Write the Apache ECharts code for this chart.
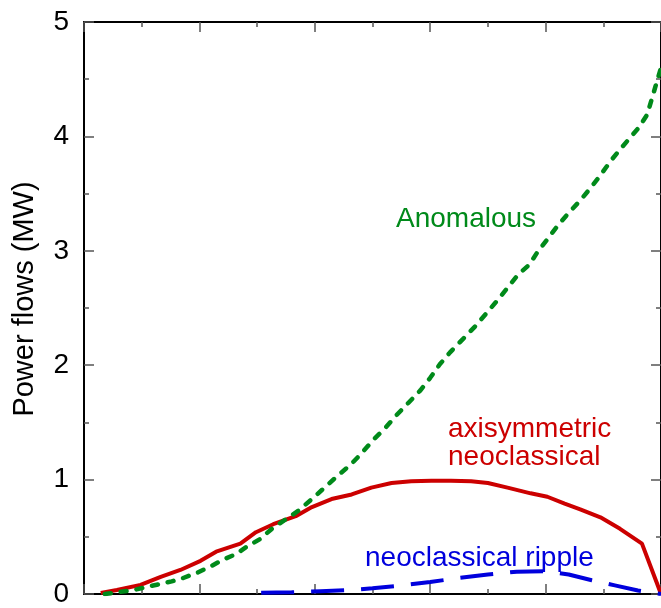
<!DOCTYPE html>
<html>
<head>
<meta charset="utf-8">
<script src="https://cdn.jsdelivr.net/npm/echarts@6/dist/echarts.min.js"></script>
<style>
  html, body { margin: 0; padding: 0; background: #fff; }
  #chart { width: 661px; height: 608px; }
</style>
</head>
<body>
<div id="chart"></div>
<script>
// Normalised radius (0..1) and power flow (MW) for each channel
const axisymX = [0.029, 0.057, 0.098, 0.133, 0.167, 0.202, 0.229, 0.271, 0.298, 0.328, 0.367, 0.395, 0.429, 0.464, 0.498, 0.533, 0.567, 0.602, 0.636, 0.671, 0.700, 0.734, 0.774, 0.803, 0.833, 0.860, 0.895, 0.929, 0.967, 1.0];
const axisymY = [0.01, 0.035, 0.08, 0.15, 0.21, 0.29, 0.37, 0.44, 0.54, 0.61, 0.68, 0.76, 0.83, 0.87, 0.93, 0.97, 0.985, 0.99, 0.99, 0.985, 0.97, 0.93, 0.88, 0.85, 0.79, 0.74, 0.67, 0.57, 0.44, 0.0];

const anomX = [0.036, 0.086, 0.116, 0.152, 0.172, 0.198, 0.219, 0.241, 0.264, 0.281, 0.305, 0.328, 0.352, 0.372, 0.395, 0.419, 0.441, 0.462, 0.481, 0.502, 0.522, 0.541, 0.562, 0.583, 0.600, 0.617, 0.634, 0.657, 0.678, 0.717, 0.752, 0.772, 0.786, 0.803, 0.821, 0.838, 0.860, 0.878, 0.895, 0.912, 0.928, 0.945, 0.962, 0.976, 1.0];
const anomY = [0.0, 0.035, 0.07, 0.11, 0.14, 0.19, 0.24, 0.30, 0.35, 0.41, 0.48, 0.58, 0.66, 0.73, 0.83, 0.94, 1.04, 1.13, 1.23, 1.35, 1.45, 1.56, 1.67, 1.78, 1.89, 2.01, 2.11, 2.23, 2.34, 2.57, 2.79, 2.88, 2.99, 3.10, 3.22, 3.32, 3.44, 3.55, 3.66, 3.78, 3.88, 3.98, 4.08, 4.19, 4.60];

const rippleX = [0.307, 0.36, 0.41, 0.46, 0.50, 0.55, 0.60, 0.65, 0.70, 0.75, 0.80, 0.84, 0.88, 0.92, 0.96, 1.0];
const rippleY = [0.01, 0.015, 0.025, 0.035, 0.05, 0.075, 0.105, 0.14, 0.17, 0.195, 0.20, 0.17, 0.12, 0.075, 0.03, 0.0];

const yTicks = [0, 1, 2, 3, 4, 5];

const RED = '#cc0000', GREEN = '#008a1a', BLUE = '#0000dd';
const FONT = '"Liberation Sans", Arial, Helvetica, sans-serif';

const pairs = (xs, ys) => xs.map((x, i) => [x, ys[i]]);

const chart = echarts.init(document.getElementById('chart'), null, { renderer: 'canvas' });

const tickStyle = { color: '#555', width: 1.5 };
const xCommon = {
  type: 'value', min: 0, max: 1, interval: 0.2,
  axisLine: { show: true, onZero: false, lineStyle: { color: '#000', width: 2 } },
  axisTick: { show: true, inside: true, length: 10, lineStyle: tickStyle },
  minorTick: { show: true, splitNumber: 2, length: 5, lineStyle: tickStyle },
  axisLabel: { show: false },
  splitLine: { show: false }
};
const yCommon = {
  type: 'value', min: yTicks[0], max: yTicks[yTicks.length - 1], interval: 1,
  axisLine: { show: true, onZero: false, lineStyle: { color: '#000', width: 2 } },
  axisTick: { show: true, inside: true, length: 10, lineStyle: tickStyle },
  minorTick: { show: true, splitNumber: 2, length: 5, lineStyle: tickStyle },
  splitLine: { show: false }
};

const label = (text, x, y, color, extra) => Object.assign({
  type: 'text', x: x, y: y, silent: true,
  style: { text: text, fill: color, font: '28px ' + FONT, verticalAlign: 'middle', align: 'left' }
}, extra || {});

chart.setOption({
  animation: false,
  backgroundColor: '#fff',
  grid: { left: 84, top: 22, width: 580, height: 579, containLabel: false },
  xAxis: [
    Object.assign({ position: 'bottom' }, xCommon),
    Object.assign({ position: 'top' }, xCommon)
  ],
  yAxis: [
    Object.assign({
      position: 'left',
      axisLabel: { show: true, fontSize: 28, color: '#000', margin: 15, fontFamily: FONT }
    }, yCommon),
    Object.assign({ position: 'right', axisLabel: { show: false } }, yCommon)
  ],
  series: [
    {
      name: 'axisymmetric neoclassical', type: 'line', showSymbol: false,
      data: pairs(axisymX, axisymY),
      lineStyle: { color: RED, width: 4 }, z: 2
    },
    {
      name: 'neoclassical ripple', type: 'line', showSymbol: false,
      data: pairs(rippleX, rippleY),
      lineStyle: { color: BLUE, width: 4, type: [33, 17] }, z: 3
    },
    {
      name: 'Anomalous', type: 'line', showSymbol: false,
      data: pairs(anomX, anomY),
      lineStyle: { color: GREEN, width: 4.5, type: [6, 10], cap: 'round' }, z: 4
    }
  ],
  graphic: [
    {
      type: 'text', x: 25, y: 299, rotation: Math.PI / 2, silent: true,
      style: { text: 'Power flows (MW)', fill: '#000', font: '29px ' + FONT, align: 'center', verticalAlign: 'middle' }
    },
    label('Anomalous', 396, 219, GREEN),
    label('axisymmetric', 448, 429, RED),
    label('neoclassical', 448, 457, RED),
    label('neoclassical ripple', 365, 558, BLUE)
  ]
});
</script>
</body>
</html>
